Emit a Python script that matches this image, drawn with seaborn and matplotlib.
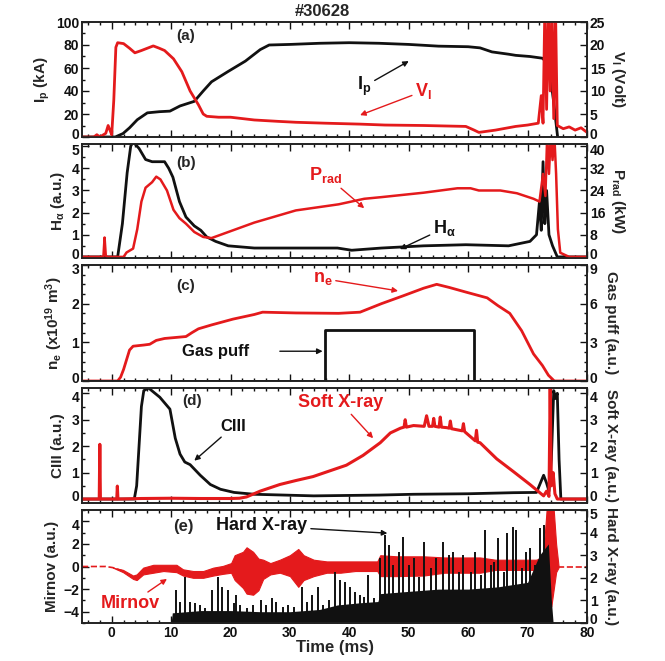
import matplotlib
matplotlib.use("Agg")
import matplotlib.pyplot as plt
from matplotlib.ticker import MultipleLocator
from matplotlib.transforms import ScaledTranslation
import seaborn as sns

RED = "#e41a1c"
BLK = "#111111"

# ---------------- data (time in ms) ----------------
# (a) plasma current (kA) and loop voltage (V)
ip_t = [-5, 0.6, 1.9, 3.0, 4.3, 6.0, 8.0, 9.8, 11.5, 13.9, 15.4, 16.8, 19.6, 22.5, 25.0, 26.5,
        30, 35, 40, 45, 50, 55, 60, 62, 64, 66.8, 68, 70.4, 72.5, 73.2, 73.6, 74.4, 75.1]
ip = [0, 0, 3, 8, 15, 21, 22, 22.5, 27, 31, 40, 48, 57, 66, 76, 80,
      80.5, 81.5, 82, 81.5, 80.5, 79, 78.5, 77.5, 74, 72, 71, 70, 68.5, 65, 62, 30, -2]

vl_t = [-5, -3, -2.5, -2, -1, -0.6, -0.3, 0, 0.35, 0.7, 1, 2, 3, 3.9, 5, 6, 7, 8, 8.9, 10.4,
        11.8, 13.2, 14.6, 15.4, 16, 18, 20, 24, 28, 31, 36, 41.8, 46, 52.5, 56, 59.6, 61, 61.8,
        64.6, 68, 70, 71.8, 72.3, 72.6, 72.9, 73.2, 73.5, 73.8, 74.1, 74.4, 74.7, 75, 76, 77,
        78, 79, 80]
vl = [0, 0, 0.5, 0, 0.8, 2.5, 1.5, 0.5, 8, 19.5, 20.5, 20.3, 19.3, 18.3, 18.8, 19.3, 19.8,
      19.3, 18.8, 17.0, 14.2, 10.0, 7.0, 5.0, 4.5, 4.3, 4.3, 3.7, 3.4, 3.2, 3.0, 2.8, 2.6, 2.5,
      2.4, 2.3, 1.5, 1.0, 1.5, 2.3, 2.6, 3.0, 9.0, 3.0, 28, 6, 28, 10, 28, 4, 28, 2.5, 1.8, 2.2,
      1.5, 2.0, 1.0]

# (b) H-alpha (a.u.) and radiated power (kW)
ha_t = [-5, 1.0, 1.8, 2.6, 3.2, 3.6, 4.6, 5.7, 6.8, 8.9, 9.6, 10.3, 10.7, 11.4, 12.5, 13.9,
        15, 16, 17.5, 19.6, 24, 30, 38, 40.4, 45.4, 52.5, 59.6, 66.8, 70.4, 71.5, 72.0, 72.3,
        72.6, 72.9, 73.2, 73.6, 74.2, 75, 80]
ha = [0, 0, 1.5, 3.8, 5.0, 5.2, 4.9, 4.4, 4.3, 4.3, 4.0, 3.6, 3.2, 2.5, 1.8, 1.4, 1.2, 0.9,
      0.7, 0.5, 0.4, 0.4, 0.4, 0.3, 0.4, 0.5, 0.55, 0.5, 0.7, 1.0, 2.5, 1.2, 4.3, 1.5, 3.0,
      1.0, 0.5, 0.0, 0.0]

pr_t = [-5, -1.4, -1.2, -1.0, -0.8, 2, 2.5, 3.6, 4.3, 5, 5.7, 6.8, 7.5, 8.2, 9.3, 10.4, 11.4,
        12.5, 13.9, 15.4, 16.8, 20.4, 24, 31, 38.2, 42.5, 45.4, 52.5, 58.2, 60.4, 61.8, 65.4,
        68.2, 71, 72, 72.6, 73.0, 73.3, 73.6, 73.9, 74.2, 74.5, 74.8, 75.1, 75.5, 77, 80]
pr = [0, 0, 7, 0.5, 0, 0, 1.6, 3, 10, 20, 25, 27, 29, 28, 24, 17, 14, 12, 9, 7.2, 6.8, 9.6,
      12.4, 16.8, 19, 21, 21.6, 23.2, 24.8, 24.8, 24, 24, 23, 21, 20, 30, 22, 44, 30, 44, 35,
      44, 30, 10, 1.5, 0, 0]

# (c) line density (1e19 m^-3) and gas puff (a.u.)
ne_t = [-5, 1.0, 1.5, 2.0, 2.5, 3.0, 3.6, 5.4, 6.4, 7.5, 8.9, 12.5, 13.5, 14.6, 16.8, 20.4,
        24, 25.4, 31, 38.2, 41.8, 45.4, 49, 52.5, 54.7, 56.8, 59.6, 63.2, 65, 67, 69, 71, 72.5,
        73.5, 74.5, 80]
ne = [0, 0, 0.1, 0.3, 0.55, 0.8, 0.9, 0.93, 0.95, 1.05, 1.1, 1.15, 1.25, 1.35, 1.45, 1.6,
      1.72, 1.78, 1.76, 1.75, 1.78, 2.0, 2.2, 2.4, 2.5, 2.42, 2.3, 2.15, 1.95, 1.75, 1.3, 0.7,
      0.4, 0.15, 0, 0]

gp_t = [-5, 35.9, 35.9, 61.0, 61.0, 80]
gp = [0, 0, 3.95, 3.95, 0, 0]

# (d) CIII (a.u.) and soft X-ray (a.u.)
c3_t = [-5, 3.8, 4.2, 4.6, 5.0, 5.4, 6.2, 8.1, 9.8, 10.7, 11.5, 12.3, 13.2, 14.9, 16.6, 18.3,
        20.6, 24, 34, 45, 50.8, 60, 67.6, 71.5, 72.7, 73.2, 73.6, 74.0, 74.4, 74.7, 75.0, 75.3,
        75.6, 80]
c3 = [0, 0, 0.5, 2.0, 3.5, 4.1, 4.2, 3.85, 3.4, 2.3, 1.7, 1.4, 1.3, 0.9, 0.55, 0.37, 0.25,
      0.18, 0.12, 0.15, 0.18, 0.2, 0.24, 0.25, 0.9, 0.6, 0.3, 1.5, 4.1, 3.8, 4.0, 1.5, 0, 0]

sx_t = [-5, -2.1, -2.0, -1.9, 0.85, 0.95, 1.05, 5, 10, 15, 20, 21.5, 22.7, 25, 28.3, 31, 33.9,
        36.5, 39.5, 42.3, 45.2, 46.9, 48.6, 49.2, 49.4, 49.6, 50.8, 52.6, 53.0, 53.4, 54.0,
        54.2, 54.4, 55.1, 55.3, 55.5, 56.4, 56.8, 57.0, 57.2, 59.0, 59.2, 59.4, 61.2, 61.4,
        61.6, 62, 64.8, 67.6, 70.4, 72.7, 73.2, 73.6, 73.8, 74.0, 74.3, 74.6, 75, 80]
sx = [0, 0, 2.07, 0, 0, 0.49, 0, 0.02, 0.03, 0.02, 0.02, 0.03, 0.08, 0.3, 0.55, 0.7, 0.85,
      1.05, 1.28, 1.65, 2.13, 2.5, 2.68, 2.72, 3.0, 2.72, 2.78, 2.75, 3.15, 2.75, 2.75, 3.05,
      2.75, 2.72, 3.1, 2.72, 2.7, 2.68, 2.95, 2.66, 2.58, 2.85, 2.55, 2.2, 2.6, 2.15, 2.13,
      1.52, 1.04, 0.55, 0.12, 0.3, 0.1, 4.2, 0.5, 1.0, 0.2, 0, 0]

# (e) Mirnov signal envelope (a.u.) and hard X-ray bursts (a.u.)
mir_pre_t = [-5, -1, 0.2, 1.9]
mir_pre = [0, 0, -0.1, -0.4]
mir_post_t = [75.2, 80]
mir_post = [0, 0]
mir_t = [0.2, 1.9, 3.6, 4.2, 5.3, 7.0, 8.7, 10.9, 12.0, 13.7, 15.4, 17.1, 18.7, 20.1, 20.7,
         22.1, 22.7, 23.8, 24.7, 25.5, 26.7, 28.3, 30.0, 31.4, 32.3, 34.0, 36.2, 38.5, 41,
         44.7, 45.2, 48, 52.5, 56, 62, 64.6, 71.4, 72.6, 73.2, 73.6, 74.0, 74.4, 74.8, 75.2]
mir_hi = [-0.1, -0.3, -0.8, -0.7, -0.1, 0.15, 0.15, 0.15, -0.25, -0.4, -0.4, -0.1, 0.05, 0.3,
          1.0, 1.3, 1.7, 1.3, 0.7, 0.6, 0.3, 0.6, 1.0, 1.55, 1.0, 0.6, 0.45, 0.45, 0.45, 0.45,
          1.0, 0.9, 0.9, 0.8, 0.8, 0.6, 0.6, 0.8, 5, 5, 5, 5, 2, 0.1]
mir_lo = [-0.1, -0.5, -1.1, -1.2, -0.7, -0.55, -0.4, -0.5, -0.8, -1.0, -1.0, -0.8, -0.65,
          -0.55, -1.2, -1.9, -2.4, -2.5, -2.1, -1.1, -0.7, -0.55, -0.85, -1.8, -1.2, -0.85,
          -0.55, -0.55, -0.4, -0.4, -0.85, -0.85, -0.8, -0.55, -0.55, -0.3, -0.3, -0.5, -3,
          -4, -3.5, -2, -0.5, -0.1]

hxb_t = [10.0, 10.2, 15, 20, 25, 30, 35, 38, 42, 44.8, 45.2, 50, 55, 60, 65, 70, 72.0,
         73.5, 74.0, 74.3]
hxb = [0, 0.45, 0.55, 0.55, 0.5, 0.5, 0.6, 0.8, 0.9, 0.95, 1.3, 1.4, 1.5, 1.5, 1.6, 1.8,
       3.0, 3.5, 1.0, 0]
hx_t = [10.9, 11.5, 12.3, 13.2, 14.0, 14.9, 15.7, 16.8, 17.9, 18.5, 19.6, 20.5, 21.0, 21.6,
        22.7, 23.8, 25.2, 26.0, 26.9, 27.7, 28.8, 29.7, 30.6, 32.0, 32.8, 33.7, 34.8, 35.6,
        36.5, 37.6, 38.4, 39.3, 40.1, 41.0, 41.8, 42.4, 43.2, 44.1, 45.2, 46.0, 46.6, 47.4,
        48.3, 49.1, 50.0, 50.8, 51.7, 52.5, 53.7, 54.5, 55.8, 56.7, 57.5, 58.4, 59.2, 60.4,
        61.2, 62.1, 62.9, 63.8, 64.3, 65.1, 66.0, 66.6, 67.6, 68.1, 69.0, 69.8, 70.4, 71.2,
        72.1, 72.7]
hx_h = [1.46, 0.94, 2.05, 0.94, 0.87, 0.8, 0.65, 1.46, 2.05, 1.6, 1.46, 0.87, 1.24, 0.8,
        0.65, 0.8, 1.0, 0.8, 1.09, 0.94, 0.72, 0.8, 0.72, 1.6, 0.94, 1.24, 1.6, 0.8, 1.0,
        2.27, 1.9, 1.83, 1.6, 1.39, 1.24, 1.17, 2.12, 1.09, 2.86, 3.9, 3.45, 2.57, 3.16, 3.82,
        2.57, 2.86, 2.05, 3.6, 2.42, 2.86, 3.6, 3.0, 3.16, 2.27, 3.0, 2.27, 3.16, 2.12, 4.1,
        2.57, 2.7, 3.75, 2.27, 4.0, 4.26, 4.1, 2.42, 3.16, 3.3, 2.57, 4.2, 4.33]

# ---------------- figure ----------------
sns.set_style("ticks")
plt.rcParams["font.family"] = ["Liberation Sans", "DejaVu Sans"]
plt.rcParams["font.weight"] = "bold"
plt.rcParams["axes.labelweight"] = "bold"
plt.rcParams["mathtext.fontset"] = "custom"
plt.rcParams["mathtext.rm"] = "Liberation Sans:bold"
plt.rcParams["mathtext.it"] = "Liberation Sans:bold"
plt.rcParams["mathtext.bf"] = "Liberation Sans:bold"
plt.rcParams["mathtext.default"] = "bf"

W, H = 665, 661
fig = plt.figure(figsize=(W / 100, H / 100), dpi=100)
rows = [(22, 137), (144, 258), (265, 381), (388, 503), (510, 623)]
axes = []
for top, bot in rows:
    ax = fig.add_axes([82 / W, 1 - bot / H, (587 - 82) / W, (bot - top) / H])
    axes.append((ax, ax.twinx()))


def style(ax, tw, yl, yr, ml, nl, mr, nr, last=False):
    ax.set_xlim(-5, 80)
    ax.set_ylim(*yl)
    tw.set_ylim(*yr)
    ax.xaxis.set_major_locator(MultipleLocator(10))
    ax.xaxis.set_minor_locator(MultipleLocator(2))
    ax.yaxis.set_major_locator(MultipleLocator(ml))
    ax.yaxis.set_minor_locator(MultipleLocator(nl))
    tw.yaxis.set_major_locator(MultipleLocator(mr))
    tw.yaxis.set_minor_locator(MultipleLocator(nr))
    for a in (ax, tw):
        a.tick_params(which="both", direction="in", labelsize=10, width=1, colors=BLK, pad=2)
        a.tick_params(which="major", length=5)
        a.tick_params(which="minor", length=2.5)
        for s in a.spines.values():
            s.set_linewidth(1.2)
            s.set_color("#222222")
    ax.tick_params(axis="x", which="both", top=True)
    if not last:
        ax.tick_params(axis="x", labelbottom=False)
    ax.set_xlabel("")
    tw.set_xlabel("")


def line(a, x, y, c, lw=1.8, ls="-"):
    sns.lineplot(x=x, y=y, ax=a, color=c, lw=lw, ls=ls, sort=False, estimator=None)


arrow_k = dict(arrowstyle="-|>", mutation_scale=8, lw=1.0, shrinkA=0, shrinkB=0)
LBL = 11

# (a)
ax, tw = axes[0]
line(ax, ip_t, ip, BLK, 2.0)
line(tw, vl_t, vl, RED, 2.0)
style(ax, tw, (0, 100), (0, 25), 20, 10, 5, 2.5)
ax.set_ylabel(r"I$_p$ (kA)", fontsize=LBL, labelpad=3)
tw.set_ylabel(r"V$_l$ (Volt)", fontsize=LBL, rotation=270, va="bottom", labelpad=3)
ax.text(12.5, 88, "(a)", fontsize=11, ha="center", va="center")
ax.annotate(r"I$_p$", xy=(50, 66), xytext=(42.5, 44), fontsize=13, color=BLK,
            ha="center", va="center", arrowprops=dict(color=BLK, **arrow_k))
ax.annotate(r"V$_l$", xy=(41.8, 19), xytext=(52.5, 40), fontsize=13, color=RED,
            ha="center", va="center", arrowprops=dict(color=RED, **arrow_k))

# (b)
ax, tw = axes[1]
line(ax, ha_t, ha, BLK, 2.0)
line(tw, pr_t, pr, RED, 1.8)
style(ax, tw, (-0.05, 5.1), (-0.4, 40.8), 1, 0.5, 8, 4)
ax.set_ylabel(r"H$_\alpha$ (a.u.)", fontsize=LBL, labelpad=3)
tw.set_ylabel(r"P$_{rad}$ (kW)", fontsize=LBL, rotation=270, va="bottom", labelpad=3)
ax.text(12.5, 4.25, "(b)", fontsize=11, ha="center", va="center")
ax.annotate(r"P$_{rad}$", xy=(42.5, 2.2), xytext=(36, 3.7), fontsize=13, color=RED,
            ha="center", va="center", arrowprops=dict(color=RED, **arrow_k))
ax.annotate(r"H$_\alpha$", xy=(48.5, 0.35), xytext=(56, 1.3), fontsize=13, color=BLK,
            ha="center", va="center", arrowprops=dict(color=BLK, **arrow_k))

# (c)
ax, tw = axes[2]
line(ax, ne_t, ne, RED, 2.0)
line(tw, gp_t, gp, BLK, 2.0)
style(ax, tw, (0, 3), (0, 9), 1, 0.25, 3, 0.75)
ax.set_ylabel(r"n$_e$ (x10$^{19}$ m$^3$)", fontsize=LBL, labelpad=5)
tw.set_ylabel("Gas puff (a.u.)", fontsize=LBL, rotation=270, va="bottom", labelpad=5)
ax.text(12.5, 2.45, "(c)", fontsize=11, ha="center", va="center")
ax.annotate(r"n$_e$", xy=(48.2, 2.33), xytext=(35.5, 2.65), fontsize=13, color=RED,
            ha="center", va="center", arrowprops=dict(color=RED, **arrow_k))
ax.text(17.5, 0.77, "Gas puff", fontsize=12, color=BLK, ha="center", va="center")
ax.annotate("", xy=(35.5, 0.77), xytext=(28.3, 0.77), arrowprops=dict(color=BLK, **arrow_k))

# (d)
ax, tw = axes[3]
line(ax, c3_t, c3, BLK, 2.0)
line(tw, sx_t, sx, RED, 2.2)
style(ax, tw, (-0.15, 4.2), (-0.15, 4.2), 1, 0.5, 1, 0.5)
ax.set_ylabel("CIII (a.u.)", fontsize=LBL, labelpad=5)
tw.set_ylabel("Soft X-ray (a.u.)", fontsize=LBL, rotation=270, va="bottom", labelpad=5)
ax.text(13.5, 3.7, "(d)", fontsize=11, ha="center", va="center")
ax.annotate("CIII", xy=(13.9, 1.45), xytext=(20.5, 2.75), fontsize=12, color=BLK,
            ha="center", va="center", arrowprops=dict(color=BLK, **arrow_k))
ax.annotate("Soft X-ray", xy=(44, 2.3), xytext=(38.5, 3.65), fontsize=13, color=RED,
            ha="center", va="center", arrowprops=dict(color=RED, **arrow_k))

# (e)
ax, tw = axes[4]
ax.fill_between(mir_t, mir_lo, mir_hi, color=RED, lw=0.8, edgecolor=RED)
line(ax, mir_pre_t, mir_pre, RED, 1.2, "--")
line(ax, mir_post_t, mir_post, RED, 1.2, "--")
tw.fill_between(hxb_t, 0, hxb, color=BLK, lw=0)
tw.vlines(hx_t, 0, hx_h, color=BLK, lw=1.4)
style(ax, tw, (-5, 5), (0, 5), 2, 1, 1, 0.5, last=True)
ax.set_ylabel("Mirnov (a.u.)", fontsize=LBL, labelpad=3)
tw.set_ylabel("Hard X-ray (a.u.)", fontsize=LBL, rotation=270, va="bottom", labelpad=5)
ax.set_xlabel("Time (ms)", fontsize=12, labelpad=0)
ax.text(12.0, 3.55, "(e)", fontsize=12, ha="center", va="center")
ax.annotate("Hard X-ray", xy=(46.4, 2.95), xytext=(25.3, 3.6), fontsize=13, color=BLK,
            ha="center", va="center", arrowprops=dict(color=BLK, **arrow_k))
ax.annotate("Mirnov", xy=(9.3, -1.1), xytext=(3.2, -3.3), fontsize=13, color=RED,
            ha="center", va="center", arrowprops=dict(color=RED, **arrow_k))

fig.text(322 / W, 1 - 12 / H, "#30628", fontsize=12, ha="center", va="center")

# nudge edge tick labels of neighbouring panels apart so they do not collide
fig.canvas.draw()
for i, (ax, tw) in enumerate(axes):
    for a, side in ((ax, "label1"), (tw, "label2")):
        lo, hi = a.get_ylim()
        locs = [t.get_loc() for t in a.yaxis.get_major_ticks() if lo - 1e-9 <= t.get_loc() <= hi + 1e-9]
        for t in a.yaxis.get_major_ticks():
            lab = getattr(t, side)
            dy = 0
            if (i < 4 or a is tw) and abs(t.get_loc() - min(locs)) < 1e-9:
                dy = 3 if i == 4 else 2.5
            if i > 0 and abs(t.get_loc() - max(locs)) < 1e-9:
                dy = -2.5
            if dy:
                lab.set_transform(lab.get_transform() + ScaledTranslation(0, dy / 72, fig.dpi_scale_trans))

fig.savefig("out.png", dpi=100)
